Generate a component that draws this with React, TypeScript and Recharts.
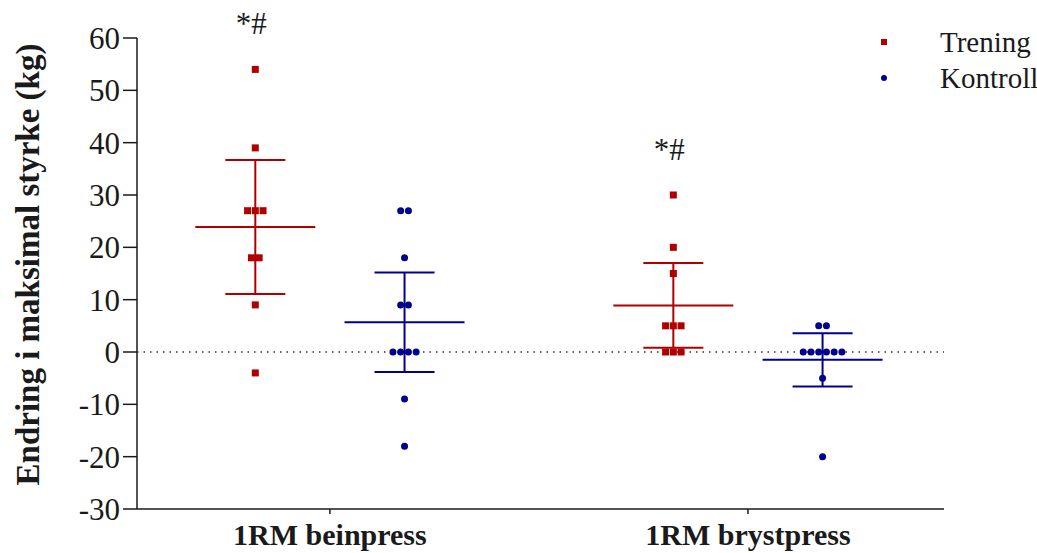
import React from "react";
import {
  ComposedChart,
  ErrorBar,
  Legend,
  ReferenceLine,
  Scatter,
  XAxis,
  YAxis,
} from "recharts";

// two exercises, each with a training and a control group
const CATEGORIES = ["1RM beinpress", "1RM brystpress"];
const CATEGORY_POS = [1, 3];
const GROUP_OFFSET = 0.357; // distance from category centre to each group column
const JITTER = 0.037; // horizontal spread of equal values

const TRENING_BEIN = [54, 39, 27, 27, 27, 18, 18, 9, -4];
const TRENING_BRYST = [30, 20, 15, 5, 5, 5, 0, 0, 0];
const KONTROLL_BEIN = [27, 27, 18, 9, 9, 0, 0, 0, 0, -9, -18];
const KONTROLL_BRYST = [5, 5, 0, 0, 0, 0, 0, 0, -5, -20];

// mean and 95% CI half-width per category
const TRENING_MEAN = [23.9, 8.9];
const TRENING_CI = [12.8, 8.1];
const KONTROLL_MEAN = [5.7, -1.5];
const KONTROLL_CI = [9.5, 5.1];

const Y_TICKS = [-30, -20, -10, 0, 10, 20, 30, 40, 50, 60];
const SIGNIFICANCE = "*#";
const LEGEND_ORDER = ["Trening", "Kontroll"];

const RED = "#b00000";
const BLUE = "#00008f";
const INK = "#1a1a1a";
const FONT = '"Liberation Serif", "Times New Roman", serif';

function spread(values: number[], centre: number) {
  const counts = new Map<number, number>();
  values.forEach((v) => counts.set(v, (counts.get(v) ?? 0) + 1));
  const seen = new Map<number, number>();
  return values.map((v) => {
    const n = counts.get(v) ?? 1;
    const k = seen.get(v) ?? 0;
    seen.set(v, k + 1);
    return { x: centre + (k - (n - 1) / 2) * JITTER, y: v };
  });
}

const treningPoints = [
  ...spread(TRENING_BEIN, CATEGORY_POS[0] - GROUP_OFFSET),
  ...spread(TRENING_BRYST, CATEGORY_POS[1] - GROUP_OFFSET),
];
const kontrollPoints = [
  ...spread(KONTROLL_BEIN, CATEGORY_POS[0] + GROUP_OFFSET),
  ...spread(KONTROLL_BRYST, CATEGORY_POS[1] + GROUP_OFFSET),
];
const treningStats = CATEGORY_POS.map((p, i) => ({
  x: p - GROUP_OFFSET,
  y: TRENING_MEAN[i],
  ci: TRENING_CI[i],
}));
const kontrollStats = CATEGORY_POS.map((p, i) => ({
  x: p + GROUP_OFFSET,
  y: KONTROLL_MEAN[i],
  ci: KONTROLL_CI[i],
}));
const annotations = [TRENING_BEIN, TRENING_BRYST].map((vals, i) => ({
  x: CATEGORY_POS[i] - GROUP_OFFSET,
  y: Math.max(...vals),
}));

const meanLine = (color: string) => (props: any) => (
  <line
    x1={props.cx - 60}
    x2={props.cx + 60}
    y1={props.cy}
    y2={props.cy}
    stroke={color}
    strokeWidth={2}
  />
);

const squareDot = (props: any) => (
  <rect x={props.cx - 3.5} y={props.cy - 3.5} width={7} height={7} fill={RED} />
);
const roundDot = (props: any) => <circle cx={props.cx} cy={props.cy} r={3.5} fill={BLUE} />;

const annotationText = (props: any) => (
  <text
    x={props.cx - 4}
    y={props.cy - 35}
    textAnchor="middle"
    fontFamily={FONT}
    fontSize={31}
    fill={INK}
  >
    {SIGNIFICANCE}
  </text>
);

function LegendContent({ payload }: any) {
  const items = (payload ?? [])
    .filter((e: any) => LEGEND_ORDER.includes(e.value))
    .sort((a: any, b: any) => LEGEND_ORDER.indexOf(a.value) - LEGEND_ORDER.indexOf(b.value));
  return (
    <div style={{ fontFamily: FONT, fontSize: 29, color: INK }}>
      {items.map((entry: any) => (
        <div key={entry.value} style={{ display: "flex", alignItems: "center", height: 36 }}>
          <svg width={72} height={10}>
            {entry.type === "square" ? (
              <rect x={13} y={2} width={6} height={6} fill={entry.color} />
            ) : (
              <circle cx={16} cy={5} r={3} fill={entry.color} />
            )}
          </svg>
          <span>{entry.value}</span>
        </div>
      ))}
    </div>
  );
}

function YTitle({ viewBox }: any) {
  const x = viewBox.x + 28;
  const y = viewBox.y + viewBox.height / 2 - 9;
  return (
    <text
      x={x}
      y={y}
      transform={`rotate(-90 ${x} ${y})`}
      textAnchor="middle"
      dominantBaseline="central"
      fontFamily={FONT}
      fontWeight="bold"
      fontSize={33}
      fill={INK}
    >
      Endring i maksimal styrke (kg)
    </text>
  );
}

export default function App() {
  return (
    <div style={{ position: "absolute", left: 0, top: 0, width: 1037, height: 553, background: "#fff" }}>
      <ComposedChart width={1037} height={553} margin={{ top: 38, right: 93, bottom: 0, left: 0 }}>
        <XAxis
          type="number"
          dataKey="x"
          domain={[0.077, 3.938]}
          ticks={CATEGORY_POS}
          tickFormatter={(v: number) => CATEGORIES[CATEGORY_POS.indexOf(v)] ?? ""}
          height={44}
          axisLine={{ stroke: INK, strokeWidth: 1.5 }}
          tickLine={{ stroke: INK, strokeWidth: 1.5 }}
          tickSize={5}
          tickMargin={10}
          tick={{ fontFamily: FONT, fontWeight: "bold", fontSize: 30, fill: INK }}
        />
        <YAxis
          type="number"
          dataKey="y"
          domain={[-30, 60]}
          ticks={Y_TICKS}
          width={137}
          axisLine={{ stroke: INK, strokeWidth: 1.5 }}
          tickLine={{ stroke: INK, strokeWidth: 1.5 }}
          tickSize={14}
          tickMargin={3}
          tick={{ fontFamily: FONT, fontSize: 31, fill: INK }}
          label={<YTitle />}
        />
        <ReferenceLine y={0} stroke="#333" strokeWidth={1.5} strokeDasharray="1.5 5" />
        <Legend
          layout="vertical"
          align="center"
          verticalAlign="middle"
          wrapperStyle={{ top: 24, left: 868, width: 175, height: 72 }}
          content={<LegendContent />}
        />
        <Scatter data={treningStats} shape={meanLine(RED)} legendType="none" isAnimationActive={false}>
          <ErrorBar dataKey="ci" direction="y" width={30} stroke={RED} strokeWidth={2} isAnimationActive={false} />
        </Scatter>
        <Scatter data={kontrollStats} shape={meanLine(BLUE)} legendType="none" isAnimationActive={false}>
          <ErrorBar dataKey="ci" direction="y" width={30} stroke={BLUE} strokeWidth={2} isAnimationActive={false} />
        </Scatter>
        <Scatter
          name="Trening"
          data={treningPoints}
          fill={RED}
          shape={squareDot}
          legendType="square"
          isAnimationActive={false}
        />
        <Scatter
          name="Kontroll"
          data={kontrollPoints}
          fill={BLUE}
          shape={roundDot}
          legendType="circle"
          isAnimationActive={false}
        />
        <Scatter data={annotations} shape={annotationText} legendType="none" isAnimationActive={false} />
      </ComposedChart>
    </div>
  );
}
